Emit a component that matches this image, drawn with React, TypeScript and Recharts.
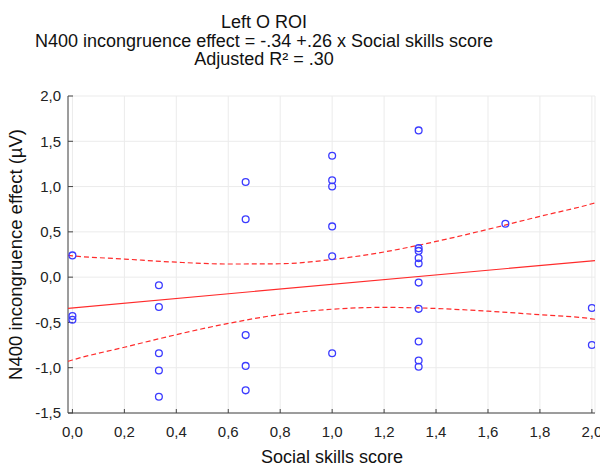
import React from 'react';
import { ScatterChart, Scatter, XAxis, YAxis, CartesianGrid } from 'recharts';

// ---- data ----
const scoreLevels = [0, 0.333, 0.667, 1.0, 1.333, 1.667, 2.0];
const effectAtLevel0 = [0.24, -0.43, -0.47];
const effectAtLevel1 = [-0.09, -0.33, -0.84, -1.03, -1.32];
const effectAtLevel2 = [1.05, 0.64, -0.64, -0.98, -1.25];
const effectAtLevel3 = [1.34, 1.07, 1.0, 0.56, 0.23, -0.84];
const effectAtLevel4 = [1.62, 0.32, 0.29, 0.21, 0.15, -0.06, -0.35, -0.71, -0.92, -0.99];
const effectAtLevel5 = [0.59];
const effectAtLevel6 = [-0.34, -0.75];

const fitX = [-0.017, 2.012];
const fitY = [-0.344, 0.183];

const bandX = [-0.017, 0.0, 0.2, 0.4, 0.6, 0.8, 1.0, 1.2, 1.4, 1.6, 1.8, 2.0, 2.012];
const bandUpper = [0.24, 0.235, 0.2, 0.165, 0.145, 0.148, 0.195, 0.278, 0.394, 0.528, 0.671, 0.81, 0.82];
const bandLower = [-0.93, -0.915, -0.774, -0.635, -0.511, -0.412, -0.354, -0.334, -0.346, -0.376, -0.415, -0.46, -0.465];

const xMajorTicks = [0, 0.2, 0.4, 0.6, 0.8, 1.0, 1.2, 1.4, 1.6, 1.8, 2.0];
const xMinorTicks = [0, 0.1, 0.2, 0.3, 0.4, 0.5, 0.6, 0.7, 0.8, 0.9, 1.0, 1.1, 1.2, 1.3, 1.4, 1.5, 1.6, 1.7, 1.8, 1.9, 2.0];
const yMajorTicks = [-1.5, -1.0, -0.5, 0, 0.5, 1.0, 1.5, 2.0];
const yMinorTicks = [
  -1.5, -1.4, -1.3, -1.2, -1.1, -1.0, -0.9, -0.8, -0.7, -0.6, -0.5, -0.4, -0.3, -0.2, -0.1,
  0, 0.1, 0.2, 0.3, 0.4, 0.5, 0.6, 0.7, 0.8, 0.9, 1.0, 1.1, 1.2, 1.3, 1.4, 1.5, 1.6, 1.7, 1.8, 1.9, 2.0,
];

const titleLines = [
  'Left O ROI',
  'N400 incongruence effect = -.34 +.26 x Social skills score',
  'Adjusted R² = .30',
];
const xTitle = 'Social skills score';
const yTitle = 'N400 incongruence effect (µV)';

// ---- build tables ----
const groups = [effectAtLevel0, effectAtLevel1, effectAtLevel2, effectAtLevel3, effectAtLevel4, effectAtLevel5, effectAtLevel6];
const points = groups.flatMap((vals, i) => vals.map((v) => ({ x: scoreLevels[i], y: v })));
const fitData = fitX.map((x, i) => ({ x, y: fitY[i] }));
const upperData = bandX.map((x, i) => ({ x, y: bandUpper[i] }));
const lowerData = bandX.map((x, i) => ({ x, y: bandLower[i] }));

const FONT = '"Liberation Sans", Arial, sans-serif';
const FRAME = '#444';
const RED = '#ff2b2b';
const BLUE = '#3b3bff';
const X_DOMAIN: [number, number] = [-0.017, 2.012];
const Y_DOMAIN: [number, number] = [-1.5, 2.0];

const fmt = (v: number) => v.toFixed(1).replace('.', ',');

const Circle = (props: any) => {
  const { cx, cy } = props;
  if (cx == null || cy == null) return <g />;
  return <circle cx={cx} cy={cy} r={3.4} fill="none" stroke={BLUE} strokeWidth={1.3} />;
};
const NoShape = () => <g />;

export default function App() {
  return (
    <div style={{ position: 'absolute', left: 0, top: 0, width: 600, height: 470, background: '#fff' }}>
      <ScatterChart width={600} height={470} margin={{ top: 96, right: 5, bottom: 0, left: 0 }}>
        <CartesianGrid stroke="#ebebeb" strokeWidth={1} />
        <XAxis
          xAxisId="xMinor"
          type="number"
          orientation="bottom"
          domain={X_DOMAIN}
          ticks={xMinorTicks}
          interval={0}
          height={0}
          axisLine={false}
          tick={false}
          tickSize={-3}
          tickLine={{ stroke: FRAME }}
          allowDataOverflow
        />
        <XAxis
          dataKey="x"
          type="number"
          domain={X_DOMAIN}
          ticks={xMajorTicks}
          interval={0}
          height={57}
          tickFormatter={fmt}
          tickSize={-4}
          tickMargin={17}
          axisLine={{ stroke: FRAME }}
          tickLine={{ stroke: FRAME }}
          tick={{ fill: '#222', fontSize: 15, fontFamily: FONT }}
          allowDataOverflow
        />
        <XAxis
          xAxisId="xTop"
          type="number"
          orientation="top"
          domain={X_DOMAIN}
          ticks={xMinorTicks}
          interval={0}
          height={0}
          tick={false}
          tickSize={-3}
          axisLine={{ stroke: FRAME }}
          tickLine={{ stroke: FRAME }}
          allowDataOverflow
        />
        <YAxis
          yAxisId="yMinor"
          type="number"
          orientation="left"
          domain={Y_DOMAIN}
          ticks={yMinorTicks}
          interval={0}
          width={0}
          axisLine={false}
          tick={false}
          tickSize={-3}
          tickLine={{ stroke: FRAME }}
          allowDataOverflow
        />
        <YAxis
          dataKey="y"
          type="number"
          domain={Y_DOMAIN}
          ticks={yMajorTicks}
          interval={0}
          width={68}
          tickFormatter={fmt}
          tickSize={-5}
          tickMargin={12}
          axisLine={{ stroke: FRAME }}
          tickLine={{ stroke: FRAME }}
          tick={{ fill: '#222', fontSize: 15, fontFamily: FONT }}
          allowDataOverflow
        />
        <YAxis
          yAxisId="yRight"
          type="number"
          orientation="right"
          domain={Y_DOMAIN}
          ticks={yMinorTicks}
          interval={0}
          width={0}
          tick={false}
          tickSize={-3}
          axisLine={{ stroke: FRAME }}
          tickLine={{ stroke: FRAME }}
          allowDataOverflow
        />
        <Scatter
          data={fitData}
          isAnimationActive={false}
          shape={NoShape}
          line={{ stroke: RED, strokeWidth: 1.2 }}
        />
        <Scatter
          data={upperData}
          isAnimationActive={false}
          shape={NoShape}
          lineJointType="monotoneX"
          line={{ stroke: RED, strokeWidth: 1.2, strokeDasharray: '5 3' }}
        />
        <Scatter
          data={lowerData}
          isAnimationActive={false}
          shape={NoShape}
          lineJointType="monotoneX"
          line={{ stroke: RED, strokeWidth: 1.2, strokeDasharray: '5 3' }}
        />
        <Scatter data={points} isAnimationActive={false} shape={Circle} />
      </ScatterChart>
      <svg
        width={600}
        height={470}
        style={{ position: 'absolute', left: 0, top: 0, pointerEvents: 'none' }}
      >
        <g fontFamily={FONT} fill="#111" fontSize={18} textAnchor="middle">
          <text x={264} y={28}>{titleLines[0]}</text>
          <text x={264} y={47}>{titleLines[1]}</text>
          <text x={264} y={65}>{titleLines[2]}</text>
          <text x={332} y={463}>{xTitle}</text>
          <text x={22} y={254.5} transform="rotate(-90, 22, 254.5)" fontSize={18.5}>{yTitle}</text>
        </g>
      </svg>
    </div>
  );
}
